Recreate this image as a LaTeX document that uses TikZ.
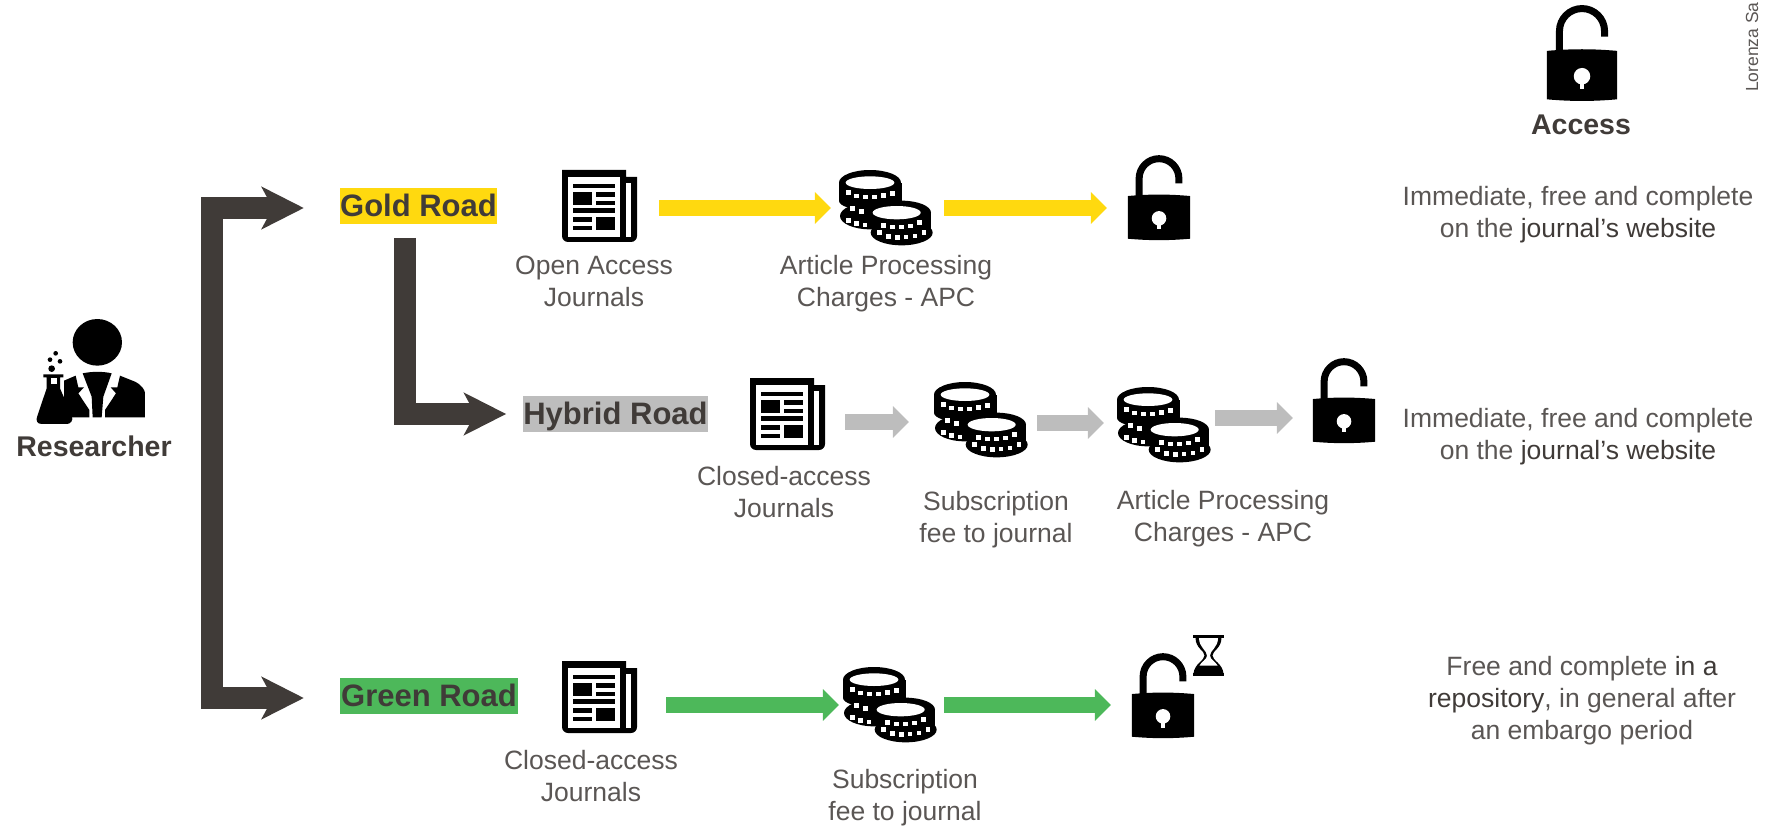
\documentclass[tikz,border=0pt]{standalone}
\usepackage{fontspec}
\setmainfont{Liberation Sans}
\usetikzlibrary{arrows.meta}
\definecolor{roaddark}{HTML}{403B38}
\definecolor{txtgrey}{HTML}{5A5654}
\definecolor{goldfill}{HTML}{FFD90F}
\definecolor{hybridfill}{HTML}{BDBDBD}
\definecolor{greenfill}{HTML}{4DB85A}
\newcommand{\strongtxt}[1]{\textcolor{roaddark}{#1}}
\tikzset{
	lockicon/.pic = {
		\draw[line width=7pt] (-20.5,0) -- (-20.5,-19) arc[start angle=180, end angle=360, radius=20.5] -- (20.5,-14);
		\fill (-32,-1) .. controls (-10,-3) and (10,-3) .. (32,-1) -- (32,43) .. controls (10,45) and (-10,45) .. (-32,43) -- cycle;
		\fill[white] (0,22) circle (7.5);
		\fill[white] (-2.2,24) rectangle (2.2,33.5);
	},
	newsicon/.pic = {
		\fill (-38,-37) -- (26,-37) -- (26,-30) -- (37,-30) [rounded corners=6pt] -- (37,35) -- (-38,35) [sharp corners] -- cycle;
		\fill[white] (-32,-30) -- (20,-30) -- (20,30) -- (-32,30) -- cycle;
		\fill[white] (26,-24) rectangle (31,30);
		\fill (-27,-23) rectangle (15,-18.7);
		\fill (-27,-14.7) rectangle (-8,-2);
		\fill (-4,-14.7) rectangle (15,-10.3);
		\fill (-4,-6.3) rectangle (15,-2);
		\fill (-27,1.3) rectangle (15,6.3);
		\fill (-27,10.3) rectangle (-8,14.7);
		\fill (-27,18.7) rectangle (-8,23);
		\fill (-4,10.3) rectangle (15,23);
	},
	coinsicon/.pic = {
		\begin{scope}[x=.3333pt, y=-.3333pt, shift={(-198,-141)}]
			\fill (150,65) ellipse[x radius=93, y radius=38];
			\fill (57,65) rectangle (245,120);
			\fill (150,120) ellipse[x radius=93, y radius=28];
			\fill (150,165) ellipse[x radius=90, y radius=40];
			\fill (245,155) ellipse[x radius=88, y radius=36];
			\fill (157,155) rectangle (333,220);
			\fill (245,215) ellipse[x radius=93, y radius=38];
			\fill[white] (150,65) ellipse[x radius=73, y radius=19];
			\fill[white] (230,155) ellipse[x radius=72, y radius=20];
			\foreach \dotx/\doty in {85/95, 110/105, 137/108, 163/108, 190/103, 217/97, 98/143, 125/152, 85/178, 110/187, 135/192, 190/193, 217/198, 245/198, 272/195, 298/185, 178/215, 205/227, 232/230, 258/228, 285/225, 312/215}
				\fill[white] (\dotx-7,\doty-7) rectangle (\dotx+7,\doty+7);
		\end{scope}
	},
	researchericon/.pic = {
		\begin{scope}[x=.3333pt, y=-.3333pt, shift={(-261,-210)}]
			\fill (262,97) ellipse[x radius=74, y radius=70];
			\fill (162,212) -- (197,197) -- (205,232) -- (222,232) -- (205,250) -- (238,300) -- (238,322) -- (185,322) -- (162,268) -- cycle;
			\fill (218,190) .. controls (245,184) and (280,184) .. (305,190) -- (280,260) -- (275,322) -- (248,322) -- (245,260) -- cycle;
			\fill (330,197) -- (375,215) .. controls (395,225) and (405,240) .. (405,250) -- (405,322) -- (285,322) -- (285,300) -- (318,250) -- (302,232) -- (322,232) -- cycle;
			\fill (100,193) -- (160,193) -- (160,202) -- (150,202) -- (150,235) -- (186,318) .. controls (190,332) and (182,342) .. (170,342) -- (95,342) .. controls (82,342) and (76,332) .. (82,318) -- (110,235) -- (110,202) -- (100,202) -- cycle;
			\fill[white] (122,205) rectangle (140,222);
			\fill (125,176) circle (10);
			\fill (120,149) circle (7);
			\fill (150,154) circle (7);
			\fill (137,130) circle (7);
		\end{scope}
	},
	hourglassicon/.pic = {
		\fill (-15.5,-20.5) rectangle (15.5,-17.5);
		\fill (-15.5,17.5) rectangle (15.5,20.5);
		\fill (-13,-18) .. controls (-13,-7) and (-4,-5) .. (-4,0) .. controls (-4,5) and (-14,8) .. (-15,18) -- (15,18) .. controls (14,8) and (4,5) .. (4,0) .. controls (4,-5) and (13,-7) .. (13,-18) -- cycle;
		\fill[white] (-9.5,-17.5) .. controls (-9.5,-8) and (-1.5,-5) .. (-1.5,0) .. controls (-1.5,4) and (-7,6) .. (-9,10) -- (9,10) .. controls (7,6) and (1.5,4) .. (1.5,0) .. controls (1.5,-5) and (9.5,-8) .. (9.5,-17.5) -- cycle;
	}
}
\begin{document}
\begin{tikzpicture}[x=1pt, y=-1pt,
		txt/.style = {align=center, text=txtgrey, inner sep=0pt, font=\fontsize{26.5}{32}\selectfont},
		head/.style = {align=center, text=roaddark, inner sep=0pt, font=\fontsize{28.5}{34}\selectfont\bfseries},
		road/.style = {text=roaddark, inner sep=0pt, font=\fontsize{31}{36}\selectfont\bfseries, minimum height=36pt, text height=22pt, text depth=1pt},
		iconbox/.style = {inner sep=0pt, minimum width=#1, minimum height=75pt},
		roadarrow/.style = {draw=roaddark, line width=22pt, line join=miter, >={Stealth[length=42pt, width=42pt, inset=11pt]}},
		flow/.style = {->, line width=16pt, >={Triangle[length=16pt, width=31pt]}},
	]
	\useasboundingbox (0,0) rectangle (1766,826);

	\node[iconbox=120pt] (researcher) at (97,380) {};
	\pic at (researcher) {researchericon};
	\node[head] (researchertxt) at (94,446) {Researcher};

	\node[road, fill=goldfill, minimum width=157pt] (goldroad) at (418.5,206) {Gold Road};
	\node[road, fill=hybridfill, minimum width=183pt] (hybridroad) at (615.5,414) {Hybrid Road};
	\node[road, fill=greenfill, minimum width=178pt] (greenroad) at (429,696) {Green Road};

	\coordinate (trunktop) at (212,208);
	\coordinate (trunkbottom) at (212,698);
	\coordinate (hybridstart) at (405,238);
	\draw[roadarrow, <->, shorten <=36pt, shorten >=36pt] ([yshift=-2pt]goldroad.west) -- (trunktop) -- (trunkbottom) -- ([yshift=-2pt]greenroad.west);
	\draw[roadarrow, ->, shorten >=17pt] (hybridstart) |- (hybridroad.west);

	\node[iconbox=76pt] (goldjournal) at (600,208) {};
	\node[iconbox=94pt] (goldcoins) at (886,208) {};
	\node[iconbox=64pt] (goldlock) at (1160,208) {};
	\pic at (600,207) {newsicon};
	\pic at (goldcoins) {coinsicon};
	\pic[scale=.97] at (1159,197) {lockicon};
	\node[txt] (goldjournaltxt) at (594,281) {Open Access\\Journals};
	\node[txt] (goldcoinstxt) at (886,284) {Article Processing\\Charges - APC};
	\draw[flow, goldfill, shorten <=21pt, shorten >=8pt] (goldjournal.east) -- (goldcoins.west);
	\draw[flow, goldfill, shorten <=11pt, shorten >=21pt] (goldcoins.east) -- (goldlock.west);

	\node[iconbox=76pt] (hybridjournal) at (788,418) {};
	\node[iconbox=94pt] (hybridfee) at (981,418) {};
	\node[iconbox=94pt] (hybridcoins) at (1164,418) {};
	\node[iconbox=64pt] (hybridlock) at (1344,418) {};
	\pic at (788,415) {newsicon};
	\pic at (981,420) {coinsicon};
	\pic at (1164,425) {coinsicon};
	\pic[scale=.97] at (1344,400) {lockicon};
	\node[txt] (hybridjournaltxt) at (784,492) {Closed-access\\Journals};
	\node[txt] (hybridfeetxt) at (996,520) {Subscription\\fee to journal};
	\node[txt] (hybridcoinstxt) at (1223,519) {Article Processing\\Charges - APC};
	\draw[flow, hybridfill, shorten <=19pt, shorten >=25pt] ([yshift=-4pt]hybridjournal.east) -- ([yshift=-4pt]hybridfee.west);
	\draw[flow, hybridfill, shorten <=9pt, shorten >=13pt] ([yshift=-5pt]hybridfee.east) -- ([yshift=-5pt]hybridcoins.west);
	\draw[flow, hybridfill, shorten <=4pt, shorten >=19pt] (hybridcoins.east) -- (hybridlock.west);

	\node[iconbox=76pt] (greenjournal) at (600,705) {};
	\node[iconbox=94pt] (greencoins) at (890,705) {};
	\node[iconbox=64pt] (greenlock) at (1163,705) {};
	\pic at (600,698) {newsicon};
	\pic at (890,705) {coinsicon};
	\pic[scale=.97] at (1163,695) {lockicon};
	\pic at (1208.5,655.5) {hourglassicon};
	\node[txt] (greenjournaltxt) at (591,776) {Closed-access\\Journals};
	\node[txt] (greencoinstxt) at (905,798) {Subscription\\fee to journal};
	\draw[flow, greenfill, shorten <=28pt, shorten >=4pt] (greenjournal.east) -- (greencoins.west);
	\draw[flow, greenfill, shorten <=7pt, shorten >=20pt] (greencoins.east) -- (greenlock.west);

	\pic[scale=1.1] at (1582,52) {lockicon};
	\node[head] (accesstxt) at (1581,125) {Access};
	\node[txt] (goldaccess) at (1578,215) {Immediate, free and complete\\on the \strongtxt{journal’s website}};
	\node[txt] (hybridaccess) at (1578,437) {Immediate, free and complete\\on the \strongtxt{journal’s website}};
	\node[txt] (greenaccess) at (1582,701) {Free and complete \strongtxt{in a}\\\strongtxt{repository}, in general after\\an embargo period};

	\node[inner sep=0pt, rotate=90, anchor=west, text=txtgrey, font=\fontsize{17.5}{20}\selectfont] (credit) at (1752,92) {Lorenza Sa};
\end{tikzpicture}
\end{document}
